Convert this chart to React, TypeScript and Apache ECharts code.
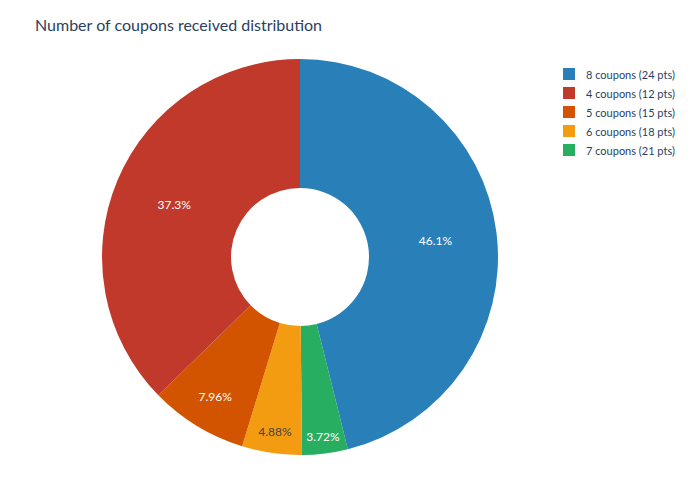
import React, { useRef, useEffect } from 'react';
import * as echarts from 'echarts';

// slices in drawing order (clockwise from 12 o'clock)
const sliceNames = [
  '8 coupons (24 pts)',
  '7 coupons (21 pts)',
  '6 coupons (18 pts)',
  '5 coupons (15 pts)',
  '4 coupons (12 pts)',
];
const slicePercents = [46.1, 3.72, 4.88, 7.96, 37.3];
const sliceColors = ['#2980b9', '#27ae60', '#f39c12', '#d35400', '#c0392b'];
const legendOrder = [
  '8 coupons (24 pts)',
  '4 coupons (12 pts)',
  '5 coupons (15 pts)',
  '6 coupons (18 pts)',
  '7 coupons (21 pts)',
];

const FONT = 'Lato, "Noto Sans", sans-serif';
const CENTER: [number, number] = [292, 249];
// small slices get their label pushed outward, like plotly does
const pushedLabels: Record<string, number> = {
  '5 coupons (15 pts)': 160,
  '6 coupons (18 pts)': 173,
  '7 coupons (21 pts)': 178,
};

const fmt = (p: any) => `${p.value}%`;
const labelColor = (name: string) => (name === '6 coupons (18 pts)' ? '#444' : '#fff');

const App: React.FC = () => {
  const chartRef = useRef<HTMLDivElement>(null);

  useEffect(() => {
    let chart: echarts.ECharts | null = null;
    if (chartRef.current) {
      chart = echarts.init(chartRef.current, null, { renderer: 'svg' });

      const mainData = sliceNames.map((name, i) => ({
        name,
        value: slicePercents[i],
        itemStyle: { color: sliceColors[i] },
        label: {
          show: !(name in pushedLabels),
          color: labelColor(name),
        },
      }));

      const overlays = Object.keys(pushedLabels).map((target) => {
        const r = pushedLabels[target];
        return {
          type: 'pie',
          silent: true,
          clockwise: true,
          startAngle: 90,
          center: CENTER,
          radius: [r - 0.5, r + 0.5],
          legendHoverLink: false,
          itemStyle: { color: 'rgba(0,0,0,0)' },
          labelLine: { show: false },
          emphasis: { disabled: true },
          tooltip: { show: false },
          data: sliceNames.map((name, i) => ({
            name,
            value: slicePercents[i],
            itemStyle: { color: 'rgba(0,0,0,0)' },
            label: {
              show: name === target,
              position: 'inside',
              formatter: fmt,
              color: labelColor(name),
              fontFamily: FONT,
              fontSize: 12,
            },
          })),
        };
      });

      const option: any = {
        animation: false,
        backgroundColor: '#fff',
        title: {
          text: 'Number of coupons received distribution',
          left: 22,
          top: 3,
          textStyle: {
            fontFamily: FONT,
            fontSize: 16,
            fontWeight: 'normal',
            color: '#2a3f5f',
          },
        },
        legend: {
          data: legendOrder,
          orient: 'vertical',
          left: 550,
          top: 55,
          itemWidth: 12,
          itemHeight: 12,
          itemGap: 7,
          icon: 'rect',
          textStyle: {
            fontFamily: FONT,
            fontSize: 11,
            color: '#2a3f5f',
            padding: [0, 0, 0, 6],
          },
        },
        series: [
          {
            type: 'pie',
            clockwise: true,
            startAngle: 90,
            center: CENTER,
            radius: [69, 198],
            avoidLabelOverlap: false,
            label: {
              position: 'inside',
              formatter: fmt,
              fontFamily: FONT,
              fontSize: 12,
            },
            labelLine: { show: false },
            data: mainData,
          },
          ...overlays,
        ],
      };
      chart.setOption(option);
    }
    return () => {
      if (chart) chart.dispose();
    };
  }, []);

  return <div ref={chartRef} style={{ width: '684px', height: '484px' }} />;
};

export default App;
